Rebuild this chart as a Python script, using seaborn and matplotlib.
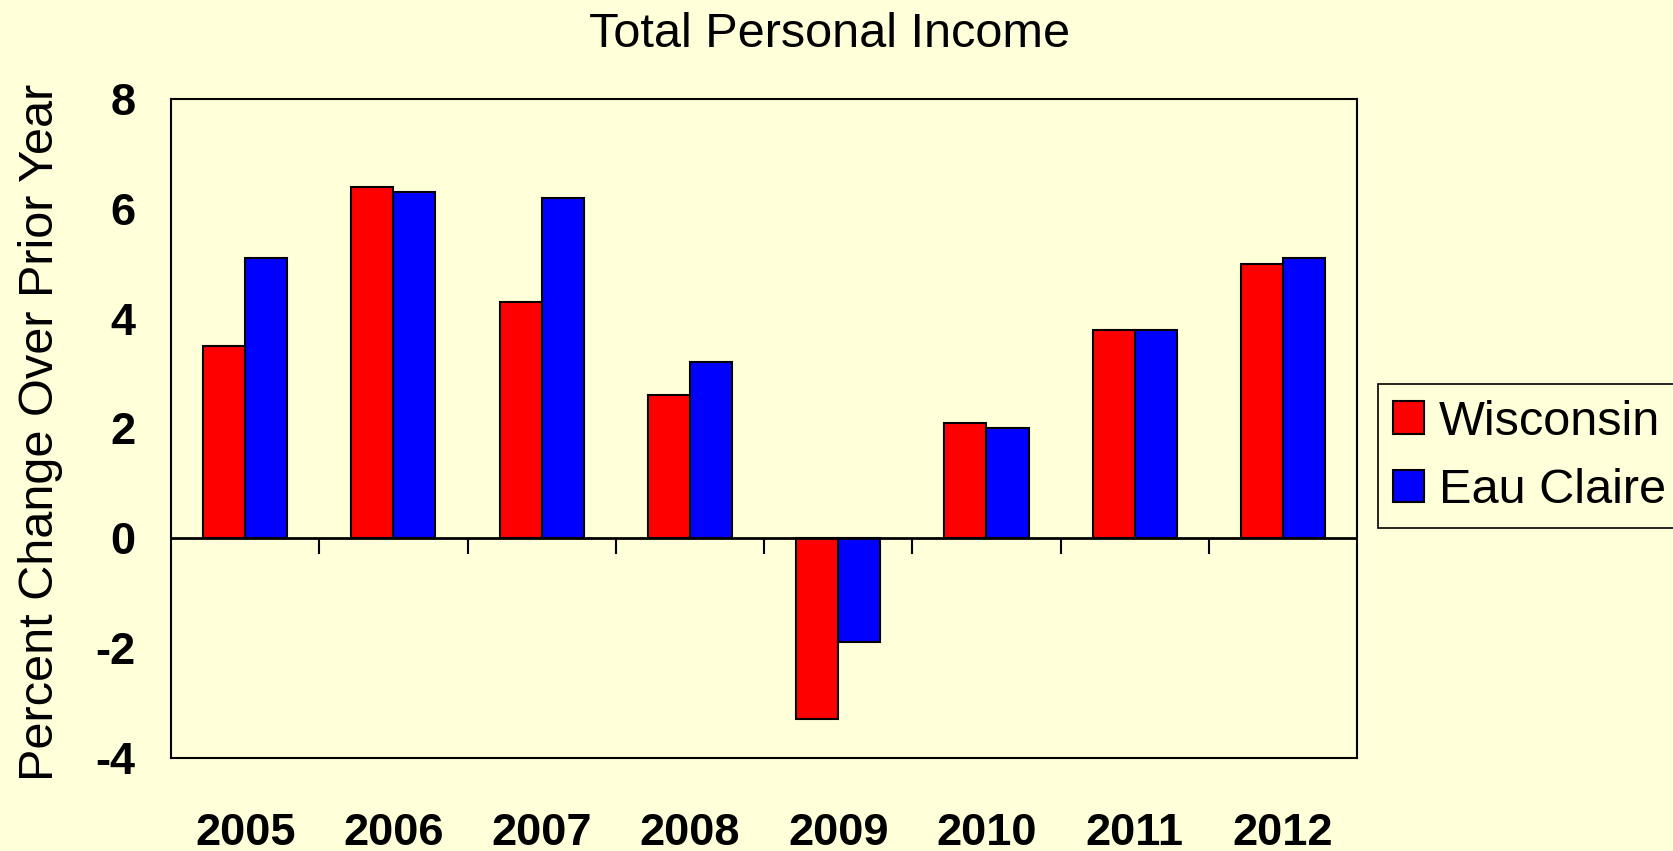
import numpy as np
import pandas as pd
import matplotlib
matplotlib.use("Agg")
import matplotlib.pyplot as plt
import seaborn as sns

# Annual percent change in total personal income
years = ["2005", "2006", "2007", "2008", "2009", "2010", "2011", "2012"]
wisconsin = [3.5, 6.4, 4.3, 2.6, -3.3, 2.1, 3.8, 5.0]
eau_claire = [5.1, 6.3, 6.2, 3.2, -1.9, 2.0, 3.8, 5.1]
series_names = ["Wisconsin", "Eau Claire"]
series_colors = ["#FF0000", "#0000FF"]
y_ticks = [-4, -2, 0, 2, 4, 6, 8]

BG = "#FFFFD9"

sns.set_theme(style="white")
plt.rcParams["font.family"] = ["Liberation Sans", "DejaVu Sans"]
plt.rcParams["text.color"] = "black"
plt.rcParams["axes.labelcolor"] = "black"
plt.rcParams["xtick.color"] = "black"
plt.rcParams["ytick.color"] = "black"

df = pd.DataFrame({
    "Year": years * 2,
    "Change": wisconsin + eau_claire,
    "Region": [series_names[0]] * len(years) + [series_names[1]] * len(years),
})

fig = plt.figure(figsize=(16.74, 8.51), dpi=100, facecolor=BG)
ax = fig.add_axes([0.1022, 0.1096, 0.7085, 0.7741])
ax.set_facecolor(BG)

sns.barplot(
    data=df, x="Year", y="Change", hue="Region",
    order=years, hue_order=series_names,
    palette=dict(zip(series_names, series_colors)),
    width=0.567, edgecolor="black", linewidth=1.5,
    errorbar=None, saturation=1, ax=ax,
)

ax.set_ylim(y_ticks[0], y_ticks[-1])
ax.set_xlim(-0.5, len(years) - 0.5)
ax.set_yticks(y_ticks)
ax.set_yticklabels([str(t) for t in y_ticks], fontsize=32.5, fontweight="bold", color="black")
ax.tick_params(axis="y", direction="out", length=9.5, width=1.5, color="black", pad=16)
ax.tick_params(axis="x", length=0, pad=40)
for lab in ax.get_xticklabels():
    lab.set_fontsize(32.5)
    lab.set_fontweight("bold")
    lab.set_color("black")

for side in ["left", "right", "top", "bottom"]:
    ax.spines[side].set_visible(True)
    ax.spines[side].set_color("black")
    ax.spines[side].set_linewidth(1.5)

# Category axis at zero with separator ticks between years
ax.axhline(0, color="black", linewidth=2, zorder=3)
ax.vlines(np.arange(len(years) - 1) + 0.5, -0.28, 0, color="black", linewidth=1.5, zorder=3)

ax.set_xlabel("")
ax.set_ylabel("Percent Change Over Prior Year", fontsize=35, va="center", color="black")
ax.yaxis.set_label_coords(-0.110, 0.4945)

fig.text(0.4955, 0.959, "Total Personal Income", fontsize=35, ha="center", va="center", color="black")

leg = ax.legend(
    loc="upper left", bbox_to_anchor=(0.823, 0.5488), bbox_transform=fig.transFigure,
    borderaxespad=0, fontsize=35, frameon=True, fancybox=False,
    handlelength=0.64, handleheight=0.64, handletextpad=0.3,
    labelspacing=0.48, borderpad=0.32, title=None,
)
for t in leg.get_texts():
    t.set_color("black")
frame = leg.get_frame()
frame.set_edgecolor("black")
frame.set_linewidth(1.2)
frame.set_facecolor(BG)
frame.set_alpha(1)

fig.savefig("out.png", dpi=100, facecolor=BG)
